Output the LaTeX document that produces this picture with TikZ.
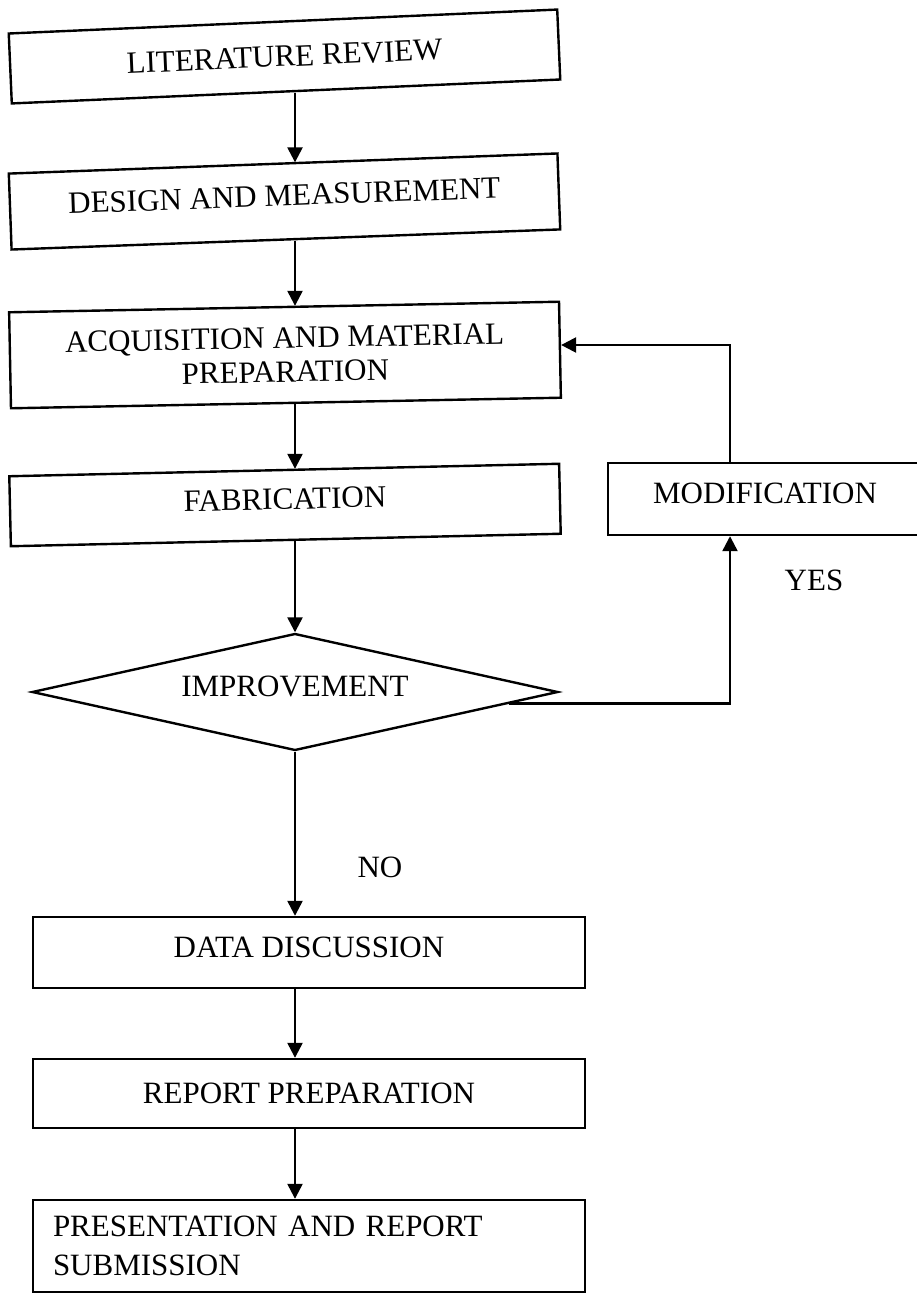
\documentclass[tikz,border=0pt]{standalone}
\usepackage{fontspec}
\setmainfont{Liberation Serif}
\usetikzlibrary{shapes.geometric,arrows.meta,calc}
\newcommand{\upby}[2]{\raisebox{#1}{#2}}
\begin{document}
\begin{tikzpicture}[x=1pt,y=-1pt,
  line width=2.4pt,
  box/.style={draw, line width=2.4pt, inner sep=0pt, font=\fontsize{31}{34}\selectfont, align=center},
  arr/.style={-{Triangle[length=15pt,width=15pt]}, line width=2.4pt},
  lbl/.style={font=\fontsize{31}{34}\selectfont, inner sep=0pt}]
\useasboundingbox (0,0) rectangle (916,1293);
\coordinate (ax) at (295,0);
\coordinate (fbx) at (730,0);
\coordinate (fby) at (0,345);

\node[box, rotate=2.5, minimum width=549pt, minimum height=70pt] (b1) at (284.5,56.5) {LITERATURE REVIEW};
\node[box, rotate=2.1, minimum width=549pt, minimum height=76pt] (b2) at (284.5,201.5) {\upby{12pt}{DESIGN AND MEASUREMENT}};
\node[box, rotate=1.1, minimum width=550pt, minimum height=96pt] (b3) at (285,355) {ACQUISITION AND MATERIAL\\PREPARATION};
\node[box, rotate=1.3, minimum width=550pt, minimum height=70pt] (b4) at (285,505) {\upby{12pt}{FABRICATION}};
\node[box, minimum width=322pt, minimum height=72pt] (mod) at (769,499) {\upby{12pt}{MODIFICATION}\hspace{8pt}};
\node[draw, diamond, shape aspect=4.5, minimum width=526pt, minimum height=117pt, inner sep=0pt, line width=2.4pt, font=\fontsize{31}{34}\selectfont] (d) at (295,692) {\upby{12pt}{IMPROVEMENT}};
\node[box, minimum width=552pt, minimum height=71pt] (b5) at (309,952.5) {\upby{10pt}{DATA DISCUSSION}};
\node[box, minimum width=552pt, minimum height=69pt] (b6) at (309,1093.5) {REPORT PREPARATION};
\node[box, align=left, text width=512pt, inner xsep=20pt, minimum height=92pt, font=\fontsize{31}{39}\selectfont] (b7) at (309,1246) {PRESENTATION AND REPORT\\SUBMISSION};

\node[lbl] (yes) at (814,580) {YES};
\node[lbl] (no) at (380,867) {NO};

\draw[arr] (b1.south -| ax) -- (b2.north -| ax);
\draw[arr] (b2.south -| ax) -- (b3.north -| ax);
\draw[arr] (b3.south -| ax) -- (b4.north -| ax);
\draw[arr] (b4.south -| ax) -- (d.north);
\draw[arr] (d.south) -- (b5.north -| ax);
\draw[arr] (b5.south -| ax) -- (b6.north -| ax);
\draw[arr] (b6.south -| ax) -- (b7.north -| ax);
\coordinate (dstart) at ($(d.east)!0.19!(d.south)$);
\draw[arr] (dstart) -| (mod.south -| fbx);
\draw[arr] (mod.north -| fbx) |- (b3.east |- fby);
\end{tikzpicture}
\end{document}
